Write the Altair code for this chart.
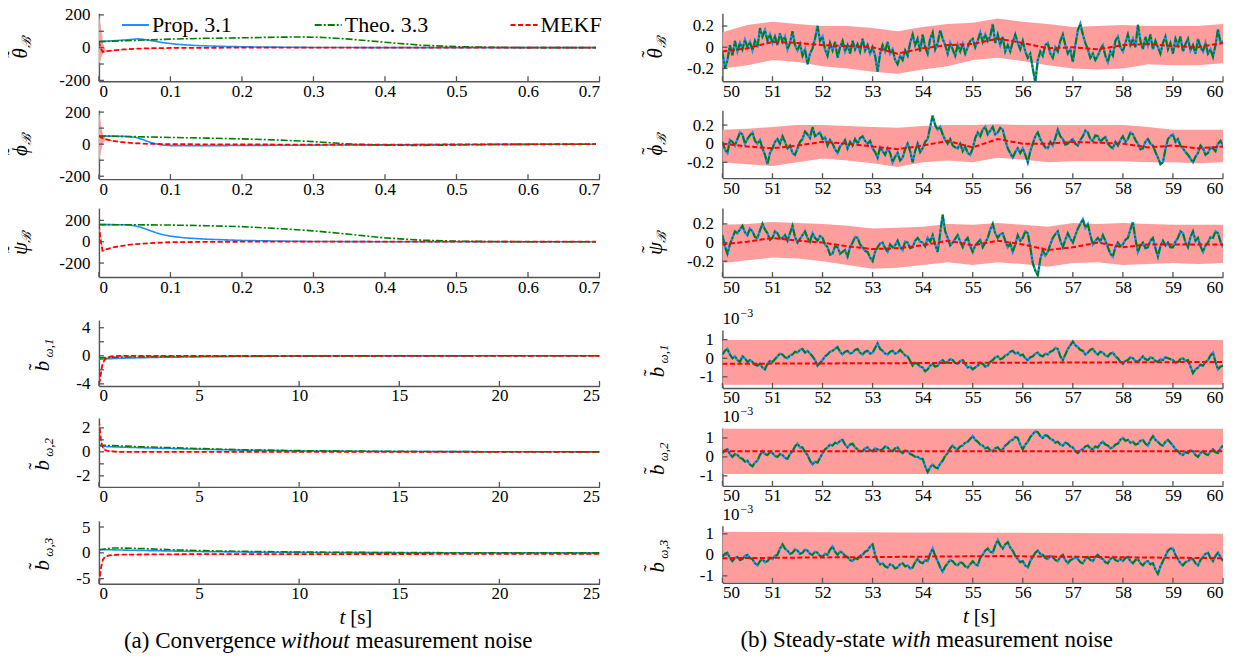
import altair as alt
import pandas as pd

FONT = "Liberation Serif"
BLUE = "#1e8fff"
GREEN = "#007f00"
RED = "#ff0000"
BAND = "#ff9c9c"
AXC = "#555555"
SERIES = ["Prop. 3.1", "Theo. 3.3", "MEKF"]
W = 501

# ---------------- (a) convergence without noise ----------------
t_b1 = [0, 0.02, 0.04, 0.055, 0.07, 0.09, 0.11, 0.14, 0.18, 0.22, 0.3, 0.4, 0.5, 0.695]
blue_1 = [37, 42, 48, 54, 46, 30, 20, 12, 7, 4, 1, 0, 0, 0]
t_g1 = [0, 0.05, 0.1, 0.15, 0.2, 0.25, 0.28, 0.31, 0.35, 0.4, 0.45, 0.5, 0.55, 0.6, 0.695]
green_1 = [37, 44, 52, 57, 60, 64, 65, 63, 52, 33, 15, 6, 2, 0, 0]
t_r1 = [0, 0.002, 0.005, 0.01, 0.02, 0.035, 0.05, 0.07, 0.1, 0.15, 0.2, 0.695]
red_1 = [37, 0, -25, -22, -17, -11, -7, -4, -2, -1, 0, 0]
t_s1 = [0, 0.003, 0.006, 0.01, 0.02, 0.05, 0.1, 0.2, 0.695]
lo_1 = [-110, -60, -35, -27, -19, -8, -3, -1, -0.5]
hi_1 = [205, 120, 20, -17, -15, -6, -1, 0.5, 0.5]

t_b2 = [0, 0.02, 0.04, 0.05, 0.06, 0.07, 0.08, 0.09, 0.1, 0.15, 0.2, 0.3, 0.4, 0.5, 0.6, 0.695]
blue_2 = [51, 50, 48, 43, 31, 14, 2, -6, -9, -10, -8, -6, -4, -2, -1, 0]
t_g2 = [0, 0.05, 0.1, 0.15, 0.2, 0.25, 0.3, 0.33, 0.36, 0.4, 0.45, 0.5, 0.55, 0.6, 0.695]
green_2 = [51, 47, 42, 38, 33, 26, 16, 7, -1, -6, -8, -5, -2, -1, 0]
t_r2 = [0, 0.003, 0.01, 0.02, 0.03, 0.05, 0.07, 0.1, 0.2, 0.4, 0.6, 0.695]
red_2 = [51, 42, 30, 20, 13, 6, 2, 0, -2, -3, -1, 0]
t_s2 = [0, 0.003, 0.006, 0.01, 0.02, 0.05, 0.1, 0.2, 0.695]
lo_2 = [-120, -40, 10, 24, 17, 5, -1, -3, -0.5]
hi_2 = [210, 120, 50, 36, 23, 7, 1, -1, 0.5]

t_b3 = [0, 0.02, 0.04, 0.05, 0.06, 0.07, 0.08, 0.09, 0.1, 0.12, 0.15, 0.2, 0.25, 0.3, 0.4, 0.695]
blue_3 = [160, 160, 158, 150, 132, 108, 84, 65, 52, 36, 24, 12, 6, 2, 0, 0]
t_g3 = [0, 0.05, 0.1, 0.15, 0.2, 0.25, 0.3, 0.35, 0.4, 0.45, 0.5, 0.55, 0.6, 0.695]
green_3 = [160, 159, 156, 150, 141, 124, 102, 70, 36, 15, 5, 2, 0, 0]
t_r3 = [0, 0.002, 0.005, 0.01, 0.02, 0.04, 0.06, 0.08, 0.1, 0.15, 0.2, 0.695]
red_3 = [160, 30, -85, -72, -52, -30, -18, -10, -5, -1, 0, 0]
t_s3 = [0, 0.003, 0.006, 0.01, 0.02, 0.04, 0.08, 0.15, 0.695]
lo_3 = [150, -40, -95, -76, -54, -31, -11, -1.5, -0.5]
hi_3 = [175, 60, -75, -68, -50, -29, -9, -0.5, 0.5]

t_b4 = [0, 0.3, 1, 2, 3, 5, 7, 10, 15, 20, 25]
blue_4 = [-0.5, -0.45, -0.35, -0.28, -0.22, -0.15, -0.1, -0.05, -0.02, 0, 0]
t_g4 = [0, 1, 3, 6, 10, 15, 25]
green_4 = [-0.3, -0.2, -0.12, -0.06, -0.03, 0, 0]
t_r4 = [0, 0.05, 0.1, 0.15, 0.2, 0.3, 0.4, 0.6, 1, 25]
red_4 = [-4, -3.5, -2.5, -1.6, -1.0, -0.5, -0.25, -0.1, 0, 0]
t_s4 = [0, 0.05, 0.1, 0.2, 0.4, 1, 25]
lo_4 = [-4.3, -3.8, -2.8, -1.2, -0.35, -0.05, -0.02]
hi_4 = [-3.7, -3.2, -2.2, -0.8, -0.15, 0.05, 0.02]

t_b5 = [0, 0.2, 1, 2, 3, 5, 7, 10, 15, 20, 25]
blue_5 = [0.5, 0.45, 0.4, 0.35, 0.3, 0.22, 0.15, 0.08, 0.03, 0.01, 0]
t_g5 = [0, 0.2, 1, 2, 3, 5, 7, 10, 15, 20, 25]
green_5 = [0.55, 0.55, 0.5, 0.43, 0.38, 0.28, 0.18, 0.1, 0.04, 0.01, 0]
t_r5 = [0, 0.05, 0.1, 0.15, 0.2, 0.3, 0.5, 1, 25]
red_5 = [2.6, 1.8, 1.0, 0.6, 0.35, 0.15, 0.05, 0, 0]
t_s5 = [0, 0.05, 0.1, 0.2, 0.4, 1, 25]
lo_5 = [2.3, 1.5, 0.8, 0.25, 0.05, -0.03, -0.02]
hi_5 = [2.8, 2.1, 1.2, 0.45, 0.15, 0.03, 0.02]

t_b6 = [0, 0.5, 1, 3, 5, 8, 12, 18, 25]
blue_6 = [0.6, 0.6, 0.55, 0.4, 0.25, 0.12, 0.05, 0.01, 0]
t_g6 = [0, 0.7, 2, 4, 6, 9, 12, 16, 20, 25]
green_6 = [0.6, 0.95, 0.85, 0.55, 0.35, 0.2, 0.1, 0.04, 0.01, 0]
t_r6 = [0, 0.05, 0.1, 0.15, 0.2, 0.3, 0.5, 1, 5, 25]
red_6 = [-6, -4.5, -3, -2, -1.3, -0.8, -0.5, -0.35, -0.25, -0.2]
t_s6 = [0, 0.05, 0.1, 0.2, 0.4, 1, 25]
lo_6 = [-6, -5, -3.4, -1.6, -0.7, -0.4, -0.25]
hi_6 = [-5.5, -4, -2.6, -1.0, -0.5, -0.3, -0.15]

# ---------------- (b) steady state with noise (samples every 0.05 s) ----------------
t_fine = [round(50 + 0.05 * i, 2) for i in range(201)]
t_half = [50 + 0.5 * i for i in range(21)]

noisy_1 = [
    -0.05, -0.20, -0.12, 0.02, -0.08, 0.06, -0.04, 0.04, -0.02, 0.07, 0.00, 0.05, -0.03, 0.06, 0.00, 0.18, 0.10, 0.16, 0.06, 0.12,
    0.04, 0.10, 0.02, 0.13, 0.05, 0.10, -0.02, 0.04, 0.15, 0.02, -0.03, 0.03, -0.08, -0.02, -0.16, -0.06, -0.01, 0.08, 0.20, 0.06,
    0.10, -0.02, -0.08, 0.04, -0.03, 0.05, -0.10, 0.00, 0.06, -0.04, 0.02, -0.06, 0.06, -0.02, 0.03, -0.04, 0.08, -0.03, 0.02, -0.06,
    0.00, -0.08, -0.23, -0.06, 0.02, -0.04, 0.05, -0.06, -0.02, -0.12, -0.16, -0.08, -0.12, -0.03, -0.08, 0.04, 0.12, 0.02, 0.08, -0.04,
    0.12, 0.00, -0.06, 0.08, 0.14, -0.02, 0.04, 0.16, 0.08, 0.02, -0.06, 0.04, -0.02, -0.08, 0.02, -0.04, 0.03, -0.06, 0.00, 0.06,
    0.08, 0.00, 0.06, 0.14, 0.05, 0.12, 0.06, 0.10, 0.22, 0.04, 0.12, 0.02, 0.10, -0.04, 0.02, -0.04, 0.05, 0.12, 0.04, -0.02,
    0.06, -0.04, -0.10, -0.06, -0.20, -0.33, -0.12, -0.04, -0.08, 0.02, 0.04, -0.06, -0.10, 0.00, -0.04, 0.06, 0.12, 0.02, -0.06, -0.02,
    -0.14, 0.02, 0.16, 0.22, 0.12, 0.04, -0.02, -0.10, -0.06, -0.12, -0.08, -0.02, 0.02, -0.08, -0.14, -0.04, -0.08, 0.06, 0.10, 0.00,
    -0.04, 0.04, 0.12, 0.02, 0.08, 0.00, 0.21, 0.06, -0.02, 0.10, 0.02, 0.12, -0.02, 0.06, 0.00, -0.06, 0.04, 0.10, -0.02, 0.04,
    -0.06, 0.08, 0.02, 0.10, -0.04, 0.03, 0.08, -0.03, 0.02, -0.06, 0.08, 0.00, -0.04, 0.04, -0.06, -0.02, -0.09, 0.02, 0.17, 0.04,
    0.06,
]
mekf_1 = [-0.04, -0.01, 0.05, 0.04, 0.02, 0.01, 0.0, -0.06, -0.01, 0.02, 0.03, 0.08, 0.04, -0.01, 0.0, -0.02, 0.02, 0.03, 0.01, 0.0, 0.04]
bhi_1 = [0.14, 0.21, 0.24, 0.22, 0.20, 0.20, 0.18, 0.15, 0.19, 0.22, 0.23, 0.27, 0.24, 0.22, 0.19, 0.20, 0.21, 0.20, 0.20, 0.20, 0.22]
blo_1 = [-0.20, -0.17, -0.12, -0.14, -0.18, -0.20, -0.23, -0.25, -0.21, -0.18, -0.12, -0.10, -0.13, -0.17, -0.20, -0.21, -0.20, -0.16, -0.17, -0.17, -0.15]

noisy_2 = [
    0.02, -0.06, -0.10, 0.04, 0.02, -0.02, 0.05, 0.12, 0.10, 0.00, 0.05, 0.09, 0.12, 0.03, 0.00, 0.04, -0.05, -0.12, -0.22, -0.10,
    -0.05, 0.02, 0.05, 0.00, 0.08, 0.02, -0.05, -0.02, -0.10, -0.12, -0.05, 0.02, 0.05, 0.13, 0.10, 0.06, 0.18, 0.08, 0.10, 0.12,
    0.05, 0.07, -0.02, 0.04, 0.00, -0.06, -0.10, -0.03, 0.00, 0.04, -0.05, 0.02, -0.02, 0.05, 0.00, 0.06, 0.08, 0.03, 0.00, 0.03,
    -0.05, -0.09, -0.15, -0.04, -0.08, -0.12, -0.05, -0.10, -0.20, -0.14, -0.10, -0.18, -0.15, -0.06, 0.00, -0.08, -0.20, -0.08, 0.00, -0.09,
    -0.05, 0.02, 0.05, 0.18, 0.30, 0.20, 0.15, 0.18, 0.10, 0.04, 0.00, 0.05, -0.02, -0.04, -0.05, 0.00, -0.08, -0.03, -0.10, -0.12,
    -0.05, 0.06, 0.12, 0.08, 0.15, 0.18, 0.10, 0.14, 0.18, 0.10, 0.12, 0.17, 0.15, 0.04, -0.05, -0.10, -0.15, -0.09, -0.05, -0.10,
    -0.05, -0.12, -0.20, -0.08, 0.00, 0.08, 0.12, 0.05, 0.00, -0.04, -0.05, 0.02, -0.02, 0.06, 0.15, 0.08, 0.05, -0.01, 0.00, 0.03,
    0.05, 0.00, -0.02, 0.04, 0.08, 0.14, 0.12, 0.05, 0.03, 0.09, 0.08, 0.02, 0.05, 0.07, 0.00, -0.03, -0.05, 0.02, -0.02, 0.04,
    0.08, 0.02, 0.05, 0.12, 0.10, 0.04, 0.00, -0.06, -0.05, 0.02, 0.05, 0.00, -0.02, -0.09, -0.15, -0.22, -0.20, -0.06, 0.05, 0.08,
    0.10, 0.02, 0.05, -0.02, -0.05, -0.09, -0.12, -0.16, -0.20, -0.14, -0.10, -0.02, -0.05, -0.12, -0.10, -0.04, -0.05, -0.08, 0.00, 0.03,
    -0.02,
]
mekf_2 = [0.0, -0.03, -0.05, -0.02, 0.02, 0.0, -0.03, -0.06, -0.02, 0.03, -0.04, 0.05, 0.0, 0.0, 0.02, 0.01, 0.0, -0.04, -0.02, -0.05, -0.03]
bhi_2 = [0.15, 0.16, 0.18, 0.20, 0.20, 0.19, 0.18, 0.17, 0.19, 0.20, 0.20, 0.21, 0.20, 0.20, 0.20, 0.20, 0.20, 0.18, 0.15, 0.15, 0.15]
blo_2 = [-0.20, -0.22, -0.24, -0.20, -0.16, -0.18, -0.21, -0.25, -0.20, -0.18, -0.20, -0.15, -0.17, -0.20, -0.19, -0.19, -0.19, -0.20, -0.20, -0.21, -0.20]

noisy_3 = [
    0.08, -0.04, -0.12, -0.02, 0.05, 0.12, 0.10, 0.14, 0.18, 0.11, 0.08, 0.15, 0.12, 0.06, 0.05, 0.13, 0.20, 0.14, 0.10, 0.03,
    0.05, 0.12, 0.10, 0.04, 0.05, 0.08, 0.02, 0.10, 0.18, 0.06, 0.00, 0.04, 0.08, 0.12, 0.05, 0.01, 0.10, 0.05, 0.02, 0.07,
    0.05, -0.02, -0.05, -0.13, -0.12, -0.04, -0.05, -0.12, -0.10, -0.08, -0.15, -0.05, 0.00, 0.06, 0.05, -0.02, -0.05, -0.09, -0.10, -0.16,
    -0.20, -0.10, -0.05, -0.01, 0.00, -0.06, -0.10, -0.02, -0.05, -0.03, 0.02, -0.05, -0.08, 0.01, 0.00, -0.06, -0.05, 0.02, 0.05, 0.01,
    0.00, -0.04, 0.05, 0.01, 0.08, -0.02, -0.10, 0.10, 0.30, 0.12, 0.05, -0.03, 0.00, 0.04, 0.08, 0.01, -0.05, 0.02, 0.05, -0.04,
    -0.10, -0.03, 0.00, 0.03, -0.05, 0.00, 0.05, 0.14, 0.20, 0.10, 0.05, 0.09, 0.10, 0.02, -0.05, -0.01, -0.10, -0.02, 0.08, 0.02,
    0.05, 0.12, 0.10, -0.05, -0.22, -0.30, -0.35, -0.18, -0.08, -0.14, -0.10, -0.02, 0.05, 0.09, 0.12, 0.02, -0.05, 0.03, 0.10, 0.04,
    0.00, 0.08, 0.15, 0.20, 0.25, 0.16, 0.20, 0.08, -0.02, 0.02, 0.05, 0.01, 0.08, 0.02, -0.05, -0.12, -0.15, -0.05, 0.00, -0.04,
    -0.02, 0.03, 0.05, 0.14, 0.22, 0.04, -0.10, -0.03, 0.00, -0.06, -0.05, 0.02, 0.05, -0.06, -0.15, -0.04, 0.02, -0.03, 0.00, -0.05,
    -0.05, 0.01, 0.05, 0.12, 0.10, 0.00, -0.05, 0.06, 0.12, 0.02, 0.05, -0.04, -0.10, -0.03, 0.00, 0.06, 0.05, 0.12, 0.10, 0.01,
    -0.05,
]
mekf_3 = [-0.02, 0.01, 0.05, 0.02, 0.0, -0.04, -0.07, -0.06, -0.03, 0.02, -0.03, 0.02, -0.02, -0.08, -0.05, 0.0, -0.05, -0.02, -0.02, -0.02, -0.02]
bhi_3 = [0.19, 0.20, 0.22, 0.21, 0.20, 0.18, 0.15, 0.16, 0.17, 0.20, 0.19, 0.21, 0.19, 0.17, 0.21, 0.20, 0.21, 0.20, 0.19, 0.19, 0.19]
blo_3 = [-0.22, -0.19, -0.16, -0.17, -0.20, -0.24, -0.28, -0.27, -0.24, -0.21, -0.24, -0.21, -0.23, -0.26, -0.22, -0.21, -0.24, -0.23, -0.22, -0.23, -0.22]

noisy_4 = [
    0.2, 0.4, 0.5, 0.2, 0.0, 0.1, -0.1, -0.2, 0.1, 0.0, -0.2, -0.1, -0.2, -0.35, -0.4, -0.3, -0.5, -0.6, -0.3, -0.15,
    -0.2, -0.05, 0.1, 0.25, 0.2, 0.05, 0.0, 0.15, 0.2, 0.35, 0.3, 0.45, 0.5, 0.3, 0.4, 0.25, 0.1, -0.1, -0.4, -0.25,
    -0.1, 0.1, 0.2, 0.35, 0.4, 0.5, 0.6, 0.35, 0.2, 0.35, 0.4, 0.25, 0.3, 0.45, 0.5, 0.3, 0.2, 0.35, 0.4, 0.25,
    0.3, 0.55, 0.8, 0.5, 0.4, 0.25, 0.2, 0.35, 0.4, 0.25, 0.3, 0.45, 0.3, 0.15, 0.1, -0.15, -0.4, -0.25, -0.3, -0.45,
    -0.5, -0.7, -0.6, -0.4, -0.3, -0.45, -0.4, -0.2, -0.1, -0.25, -0.2, -0.05, -0.1, -0.25, -0.3, -0.15, -0.1, -0.3, -0.5, -0.45,
    -0.6, -0.5, -0.4, -0.25, -0.3, -0.45, -0.4, -0.2, -0.1, 0.05, 0.1, -0.05, 0.0, 0.15, 0.2, 0.35, 0.4, 0.25, 0.3, 0.15,
    0.2, 0.0, -0.1, 0.05, 0.1, 0.25, 0.3, 0.15, 0.1, 0.25, 0.2, 0.35, 0.4, 0.55, 0.5, 0.1, -0.1, 0.2, 0.5, 0.7,
    0.9, 0.7, 0.6, 0.45, 0.4, 0.2, 0.3, 0.45, 0.5, 0.3, 0.2, 0.35, 0.3, 0.15, 0.1, 0.25, 0.3, 0.1, 0.0, -0.2,
    -0.3, -0.15, -0.1, 0.05, 0.0, -0.15, -0.2, -0.05, 0.1, -0.05, -0.1, 0.05, 0.0, -0.15, -0.2, -0.05, -0.1, 0.05, 0.0, -0.05,
    -0.1, -0.25, -0.2, -0.05, 0.0, -0.15, -0.1, -0.45, -0.8, -0.6, -0.5, -0.35, -0.4, -0.2, -0.1, 0.15, 0.3, -0.2, -0.6, -0.45,
    -0.4,
]
t_red_lo = [50, 55, 60]
mekf_4 = [-0.3, -0.25, -0.2]
bhi_4 = [0.98, 0.98, 0.98]
blo_4 = [-1.43, -1.43, -1.43]

noisy_5 = [
    0.2, 0.35, 0.4, 0.15, 0.0, 0.15, 0.1, -0.05, -0.1, -0.25, -0.2, -0.4, -0.5, -0.3, -0.2, 0.1, 0.3, 0.15, 0.1, 0.25,
    0.2, 0.05, 0.0, 0.15, 0.1, -0.05, -0.1, 0.15, 0.3, 0.55, 0.7, 0.5, 0.5, 0.25, 0.1, -0.2, -0.4, -0.25, -0.3, -0.05,
    0.2, 0.4, 0.5, 0.65, 0.6, 0.75, 0.7, 0.85, 0.9, 0.65, 0.5, 0.65, 0.7, 0.5, 0.4, 0.3, 0.3, 0.45, 0.5, 0.35,
    0.3, 0.45, 0.4, 0.35, 0.4, 0.55, 0.5, 0.35, 0.3, 0.45, 0.5, 0.3, 0.2, 0.35, 0.3, 0.15, 0.1, 0.0, 0.0, -0.1,
    -0.1, -0.5, -0.8, -0.55, -0.4, -0.55, -0.6, -0.35, -0.2, 0.05, 0.2, 0.45, 0.6, 0.45, 0.4, 0.55, 0.6, 0.75, 0.8, 0.95,
    1.1, 0.9, 0.8, 0.65, 0.6, 0.45, 0.5, 0.35, 0.3, 0.45, 0.5, 0.35, 0.4, 0.6, 0.7, 0.85, 0.9, 1.05, 1.0, 0.65,
    0.4, 0.65, 0.8, 1.05, 1.2, 1.35, 1.3, 1.1, 1.0, 1.15, 1.1, 0.95, 0.9, 0.75, 0.8, 0.65, 0.6, 0.75, 0.7, 0.55,
    0.5, 0.3, 0.2, 0.35, 0.4, 0.55, 0.6, 0.45, 0.4, 0.55, 0.5, 0.7, 0.8, 0.65, 0.6, 0.45, 0.5, 0.65, 0.7, 0.9,
    1.0, 0.85, 0.9, 0.75, 0.8, 0.65, 0.7, 0.85, 0.9, 0.7, 0.6, 0.9, 1.1, 0.9, 0.8, 0.65, 0.6, 0.8, 0.9, 0.75,
    0.6, 0.4, 0.3, 0.15, 0.1, 0.25, 0.2, 0.35, 0.3, 0.1, 0.0, 0.2, 0.3, 0.15, 0.1, 0.3, 0.4, 0.25, 0.2, 0.45,
    0.6,
]
mekf_5 = [0.3, 0.3, 0.3]
bhi_5 = [1.48, 1.48, 1.48]
blo_5 = [-0.9, -0.9, -0.9]

noisy_6 = [
    -0.1, 0.05, 0.1, -0.15, -0.3, -0.15, -0.1, -0.25, -0.2, -0.05, 0.0, -0.15, -0.2, -0.4, -0.5, -0.3, -0.2, -0.35, -0.3, -0.15,
    -0.2, -0.05, 0.0, 0.3, 0.5, 0.3, 0.2, 0.05, 0.1, 0.25, 0.2, 0.05, 0.1, 0.25, 0.2, 0.05, 0.0, 0.15, 0.1, -0.05,
    -0.1, 0.05, 0.0, 0.25, 0.4, 0.15, 0.0, 0.15, 0.1, -0.05, -0.1, -0.25, -0.3, -0.15, -0.2, -0.05, 0.0, 0.15, 0.2, 0.4,
    0.5, 0.0, -0.3, -0.45, -0.4, -0.55, -0.6, -0.45, -0.5, -0.65, -0.6, -0.45, -0.4, -0.55, -0.5, -0.65, -0.6, -0.35, -0.2, -0.35,
    -0.4, -0.25, -0.3, 0.05, 0.3, -0.05, -0.3, -0.6, -0.8, -0.55, -0.4, -0.25, -0.3, -0.45, -0.5, -0.35, -0.4, -0.55, -0.6, -0.45,
    -0.3, -0.45, -0.5, -0.15, 0.0, 0.2, 0.3, 0.15, 0.1, 0.45, 0.7, 0.45, 0.3, 0.5, 0.6, 0.35, 0.2, -0.05, -0.2, -0.35,
    -0.3, -0.5, -0.6, -0.3, -0.1, 0.1, 0.2, 0.05, 0.0, -0.15, -0.2, -0.05, -0.1, -0.25, -0.3, -0.1, 0.0, -0.25, -0.4, -0.25,
    -0.2, -0.1, -0.2, -0.35, -0.4, -0.2, -0.1, -0.25, -0.3, -0.1, 0.0, -0.15, -0.2, -0.35, -0.4, -0.2, -0.1, -0.25, -0.3, -0.2,
    -0.3, -0.15, -0.1, -0.3, -0.4, -0.25, -0.2, -0.4, -0.5, -0.35, -0.3, -0.45, -0.4, -0.7, -0.9, -0.55, -0.3, -0.05, 0.2, 0.3,
    0.3, 0.0, -0.2, -0.4, -0.5, -0.35, -0.3, -0.2, -0.2, -0.4, -0.5, -0.25, -0.1, 0.05, 0.1, -0.15, -0.3, -0.05, 0.1, -0.1,
    -0.3,
]
t_red_6 = [50, 55.5, 60]
mekf_6 = [-0.16, -0.06, -0.16]
bhi_6 = [1.1, 1.05, 1.0]
blo_6 = [-1.3, -1.3, -1.3]

# ---------------- chart helpers ----------------
color_scale = alt.Scale(domain=SERIES, range=[BLUE, GREEN, RED])
dash_scale = alt.Scale(domain=SERIES, range=[[1, 0], [7, 2, 2, 2], [5, 2.5]])
LEG = alt.Legend(orient="none", legendX=22, legendY=-3, direction="horizontal", columns=3,
                 title=None, symbolType="stroke", symbolSize=730, symbolStrokeWidth=1.8,
                 labelFont=FONT, labelFontSize=22, labelColor="black", columnPadding=78,
                 labelOffset=2, padding=0, labelLimit=300)
LBL = "replace(format(datum.value, '~g'), '\u2212', '-')"
ONE = pd.DataFrame({"k": [0]})


def txt(text, x, y, size, italic=False, angle=0, align="center", baseline="middle"):
    kw = dict(text=text, font=FONT, fontSize=size, align=align, baseline=baseline, color="black")
    if italic:
        kw["fontStyle"] = "italic"
    if angle:
        kw["angle"] = angle
    return alt.Chart(ONE).mark_text(**kw).encode(x=alt.value(x), y=alt.value(y))


def spacer(h, top, bot, left, right):
    # invisible layout helper that fixes the panel's bounding box
    return alt.Chart(ONE).mark_rule(color="white", strokeOpacity=0.001, strokeWidth=1).encode(
        x=alt.value(-left), x2=alt.value(W + right), y=alt.value(-top), y2=alt.value(h + bot))


def panel(h, xdom, xvals, ydom, yvals, band, lines, title, sub, tx, subw, box,
          exp=False, bottom=None, widths=(1.6, 1.6, 1.8)):
    xs = alt.Scale(domain=xdom, nice=False, zero=False)
    ys = alt.Scale(domain=ydom, nice=False, zero=False)
    xa = alt.Axis(values=xvals, title=None, labelExpr=LBL, ticks=False, labelPadding=2)
    ya = alt.Axis(values=yvals, title=None, labelExpr=LBL, ticks=False, labelPadding=9)
    bt, blo, bhi = band
    bdf = pd.DataFrame({"t": bt, "lo": blo, "hi": bhi})
    layers = [alt.Chart(bdf).mark_area(color=BAND, opacity=1, clip=True).encode(
        x=alt.X("t:Q", scale=xs, axis=xa), y=alt.Y("lo:Q", scale=ys, axis=ya), y2="hi:Q")]
    for (name, t, v), wdt in zip(lines, widths):
        df = pd.DataFrame({"t": t, "v": v, "series": name})
        layers.append(alt.Chart(df).mark_line(strokeWidth=wdt, clip=True).encode(
            x=alt.X("t:Q", scale=xs, axis=xa),
            y=alt.Y("v:Q", scale=ys, axis=ya),
            color=alt.Color("series:N", scale=color_scale, legend=LEG),
            strokeDash=alt.StrokeDash("series:N", scale=dash_scale, legend=LEG)))
    # inward tick marks at the tick values
    xt = pd.DataFrame({"tv": xvals})
    yt = pd.DataFrame({"tv": yvals})
    layers.append(alt.Chart(xt).mark_rule(color=AXC, strokeWidth=1.3).encode(
        x=alt.X("tv:Q", scale=xs, axis=xa), y=alt.value(h), y2=alt.value(h - 5)))
    layers.append(alt.Chart(yt).mark_rule(color=AXC, strokeWidth=1.3).encode(
        y=alt.Y("tv:Q", scale=ys, axis=ya), x=alt.value(0), x2=alt.value(5)))
    # y title: glyph, tilde above it, subscript after it (all rotated)
    yc = h / 2 + subw / 2 + 1
    layers.append(txt(title, tx, yc, 21, italic=True, angle=270))
    layers.append(txt("\u02dc", tx - 6, yc + 1, 21, angle=270))
    layers.append(txt(sub, tx + 6, yc - 6 - subw / 2, 13, italic=True, angle=270))
    if exp:
        layers.append(txt("10", 0, -11, 17, align="left"))
        layers.append(txt("\u22123", 18, -17, 12, align="left"))
    if bottom:
        cx, parts = bottom
        layers.append(txt("t", W / 2 - 4, h + 34, 21, italic=True, align="right"))
        layers.append(txt("[s]", W / 2 + 1, h + 34, 21, align="left"))
        x0 = cx
        for s, it, wd in parts:
            layers.append(txt(s, x0, h + 57, 23, italic=it, align="left"))
            x0 += wd
    layers.append(spacer(h, *box))
    return alt.layer(*layers).properties(width=W, height=h)


XT = [0, 0.1, 0.2, 0.3, 0.4, 0.5, 0.6, 0.7]
XB = [0, 5, 10, 15, 20, 25]
XR = list(range(50, 61))


def L(pairs):
    return [(SERIES[i], t, v) for i, (t, v) in enumerate(pairs)]


LX, LR = 95, 20      # left column box: left / right extents
RX, RR = 100, 12     # right column box
TT = 34              # top extent of every lower panel
B = "\u212c"
# the bottom extent of each panel sets the gap to the panel below it
L1 = panel(68, [0, 0.7], XT, [-205, 210], [-200, -100, 0, 100, 200], (t_s1, lo_1, hi_1),
           L([(t_b1, blue_1), (t_g1, green_1), (t_r1, red_1)]), "\u03b8", B, -78, 10, (11, 28, LX, LR))
L2 = panel(69, [0, 0.7], XT, [-218, 212], [-200, -100, 0, 100, 200], (t_s2, lo_2, hi_2),
           L([(t_b2, blue_2), (t_g2, green_2), (t_r2, red_2)]), "\u03d5", B, -78, 10, (TT, 28, LX, LR))
L3 = panel(69, [0, 0.7], XT, [-331, 315], [-200, 0, 200], (t_s3, lo_3, hi_3),
           L([(t_b3, blue_3), (t_g3, green_3), (t_r3, red_3)]), "\u03c8", B, -78, 10, (TT, 42, LX, LR))
L4 = panel(66, [0, 25], XB, [-4.3, 5.1], [-4, -2, 0, 2, 4], (t_s4, lo_4, hi_4),
           L([(t_b4, blue_4), (t_g4, green_4), (t_r4, red_4)]), "b", "\u03c9,1", -56, 24, (TT, 31, LX, LR))
L5 = panel(69, [0, 25], XB, [-2.92, 2.83], [-2, -1, 0, 1, 2], (t_s5, lo_5, hi_5),
           L([(t_b5, blue_5), (t_g5, green_5), (t_r5, red_5)]), "b", "\u03c9,2", -56, 24, (TT, 33, LX, LR))
capA = [("(a) Convergence", False, 157), ("without", True, 75), ("measurement noise", False, 0)]
L6 = panel(63, [0, 25], XB, [-6, 6.2], [-5, 0, 5], (t_s6, lo_6, hi_6),
           L([(t_b6, blue_6), (t_g6, green_6), (t_r6, red_6)]), "b", "\u03c9,3", -56, 24, (TT, 69, LX, LR),
           bottom=(25, capA))

RW = (2.4, 1.8, 2.0)
R1 = panel(68, [50, 60], XR, [-0.32, 0.32], [-0.2, 0, 0.2], (t_half, blo_1, bhi_1),
           L([(t_fine, noisy_1), (t_fine, noisy_1), (t_half, mekf_1)]), "\u03b8", B, -66, 10,
           (11, 28, RX, RR), widths=RW)
R2 = panel(68, [50, 60], XR, [-0.37, 0.36], [-0.2, 0, 0.2], (t_half, blo_2, bhi_2),
           L([(t_fine, noisy_2), (t_fine, noisy_2), (t_half, mekf_2)]), "\u03d5", B, -66, 10,
           (TT, 29, RX, RR), widths=RW)
R3 = panel(69, [50, 60], XR, [-0.37, 0.37], [-0.2, 0, 0.2], (t_half, blo_3, bhi_3),
           L([(t_fine, noisy_3), (t_fine, noisy_3), (t_half, mekf_3)]), "\u03c8", B, -66, 10,
           (TT, 52, RX, RR), widths=RW)
R4 = panel(58, [50, 60], XR, [-1.6, 1.52], [-1, 0, 1], (t_red_lo, blo_4, bhi_4),
           L([(t_fine, noisy_4), (t_fine, noisy_4), (t_red_lo, mekf_4)]), "b", "\u03c9,1", -64, 24,
           (TT, 39, RX, RR), exp=True, widths=RW)
R5 = panel(58, [50, 60], XR, [-1.53, 1.53], [-1, 0, 1], (t_red_lo, blo_5, bhi_5),
           L([(t_fine, noisy_5), (t_fine, noisy_5), (t_red_lo, mekf_5)]), "b", "\u03c9,2", -64, 24,
           (TT, 39, RX, RR), exp=True, widths=RW)
capB = [("(b) Steady-state", False, 151), ("with", True, 45), ("measurement noise", False, 0)]
R6 = panel(57, [50, 60], XR, [-1.33, 1.38], [-1, 0, 1], (t_red_6, blo_6, bhi_6),
           L([(t_fine, noisy_6), (t_fine, noisy_6), (t_red_6, mekf_6)]), "b", "\u03c9,3", -64, 24,
           (TT, 70, RX, RR), exp=True, widths=RW, bottom=(18, capB))

left = alt.vconcat(L1, L2, L3, L4, L5, L6, spacing=-40)
right = alt.vconcat(R1, R2, R3, R4, R5, R6, spacing=-40)

chart = alt.hconcat(left, right, spacing=121 - LR - RX).properties(
    padding={"left": -5, "top": -7, "right": 0, "bottom": 0}
).configure_view(
    strokeWidth=0
).configure_axis(
    grid=False, domainColor=AXC, domainWidth=1.4, labelFont=FONT, labelFontSize=17, labelColor="black"
)

chart.save("out.html", embed_options={"renderer": "svg", "actions": False})
